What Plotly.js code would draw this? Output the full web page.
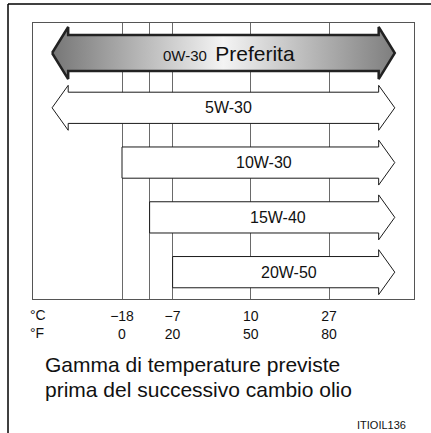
<!DOCTYPE html>
<html>
<head>
<meta charset="utf-8">
<script src="https://cdn.plot.ly/plotly-3.0.1.min.js"></script>
<style>
  html, body { margin: 0; padding: 0; background: #fff; }
  #graph { width: 431px; height: 433px; }
</style>
</head>
<body>
<div id="graph"></div>
<script>
// oil grades, lowest usable temperature in C (null = no lower limit)
var grades = ['0W-30', '5W-30', '10W-30', '15W-40', '20W-50'];
var minTempC = [null, null, -18, -12, -7];
var preferred = ['Preferita', '', '', '', ''];

// temperature scale
var gridC = [-18, -12, -7, 10, 27];
var tickC = ['\u221218', '', '\u22127', '10', '27'];
var tickF = ['0', '', '20', '50', '80'];

// arrow geometry (in C / row units)
var tipR = 41.3, baseR = 37.8;
var tipL = -33.2, baseL = -29.7;

var traces = [];
var notes = [];

for (var i = 0; i < grades.length; i++) {
	var best = preferred[i] !== '';
	var h = best ? 0.33 : 0.285;
	var H = best ? 0.475 : 0.41;
	var lo = minTempC[i];
	var xs, ys;
	if (lo === null) {
		xs = [tipL, baseL, baseL, baseR, baseR, tipR, baseR, baseR, baseL, baseL, tipL];
		ys = [i, i - H, i - h, i - h, i - H, i, i + H, i + h, i + h, i + H, i];
	} else {
		xs = [lo, baseR, baseR, tipR, baseR, baseR, lo, lo];
		ys = [i - h, i - h, i - H, i, i + H, i + h, i + h, i - h];
	}
	var tr = {
		x: xs,
		y: ys,
		mode: 'lines',
		fill: 'toself',
		fillcolor: '#ffffff',
		line: {color: best ? '#222222' : '#1a1a1a', width: best ? 2.5 : 1},
		hoverinfo: 'skip',
		showlegend: false,
		type: 'scatter'
	};
	if (best) {
		tr.fillgradient = {
			type: 'horizontal',
			colorscale: [[0, '#767676'], [0.5, '#f4f4f4'], [1, '#7e7e7e']]
		};
	}
	traces.push(tr);

	var left = (lo === null) ? tipL : lo;
	var mid = (left + tipR) / 2 + (best ? 1.3 : 1.2);
	var label = best
		? grades[i] + '  <span style="font-size:21px">' + preferred[i] + '</span>'
		: grades[i];
	notes.push({
		x: mid, y: i, xref: 'x', yref: 'y', xanchor: 'center',
		text: label, showarrow: false,
		font: {family: 'Liberation Sans, Arial, sans-serif', size: best ? 15 : 16, color: '#111'}
	});
}

var tickText = tickC.map(function(c, k) { return c + '<br>' + tickF[k]; });

var fam = 'Liberation Sans, Arial, sans-serif';

notes.push({x: -0.013, y: -0.093, xref: 'paper', yref: 'paper', xanchor: 'left', text: '\u00b0C', showarrow: false,
	font: {family: fam, size: 14, color: '#111'}});
notes.push({x: -0.013, y: -0.161, xref: 'paper', yref: 'paper', xanchor: 'left', text: '\u00b0F', showarrow: false,
	font: {family: fam, size: 14, color: '#111'}});
notes.push({x: 0.026, y: -0.286, xref: 'paper', yref: 'paper', xanchor: 'left', text: 'Gamma di temperature previste',
	showarrow: false, font: {family: fam, size: 21, color: '#111'}});
notes.push({x: 0.026, y: -0.377, xref: 'paper', yref: 'paper', xanchor: 'left', text: 'prima del successivo cambio olio',
	showarrow: false, font: {family: fam, size: 21, color: '#111'}});
notes.push({x: 0.984, y: -0.486, xref: 'paper', yref: 'paper', xanchor: 'right', text: 'ITIOIL136',
	showarrow: false, font: {family: fam, size: 11, color: '#111'}});

var layout = {
	width: 431,
	height: 433,
	margin: {l: 33, r: 17, t: 23, b: 134},
	paper_bgcolor: '#ffffff',
	plot_bgcolor: '#ffffff',
	showlegend: false,
	xaxis: {
		range: [-37.35, 45.48],
		tickmode: 'array',
		tickvals: gridC,
		ticktext: tickText,
		showgrid: true,
		gridcolor: '#6a6a6a',
		gridwidth: 1,
		zeroline: false,
		showline: true,
		mirror: true,
		linecolor: '#555555',
		linewidth: 1,
		ticks: '',
		ticklabelstandoff: 4,
		tickfont: {family: fam, size: 14, color: '#111'},
		fixedrange: true
	},
	yaxis: {
		range: [4.49, -0.548],
		showgrid: false,
		zeroline: false,
		showticklabels: false,
		showline: true,
		mirror: true,
		linecolor: '#555555',
		linewidth: 1,
		fixedrange: true
	},
	annotations: notes,
	shapes: [
		// outer frame, left and top
		{type: 'line', xref: 'paper', yref: 'paper', x0: -0.0656, x1: -0.0656, y0: 1.069, y1: -0.49,
			line: {color: '#000', width: 1.5}},
		{type: 'line', xref: 'paper', yref: 'paper', x0: -0.0656, x1: 1.07, y0: 1.069, y1: 1.069,
			line: {color: '#000', width: 1.5}}
	]
};

Plotly.newPlot('graph', traces, layout, {staticPlot: true});
</script>
</body>
</html>
